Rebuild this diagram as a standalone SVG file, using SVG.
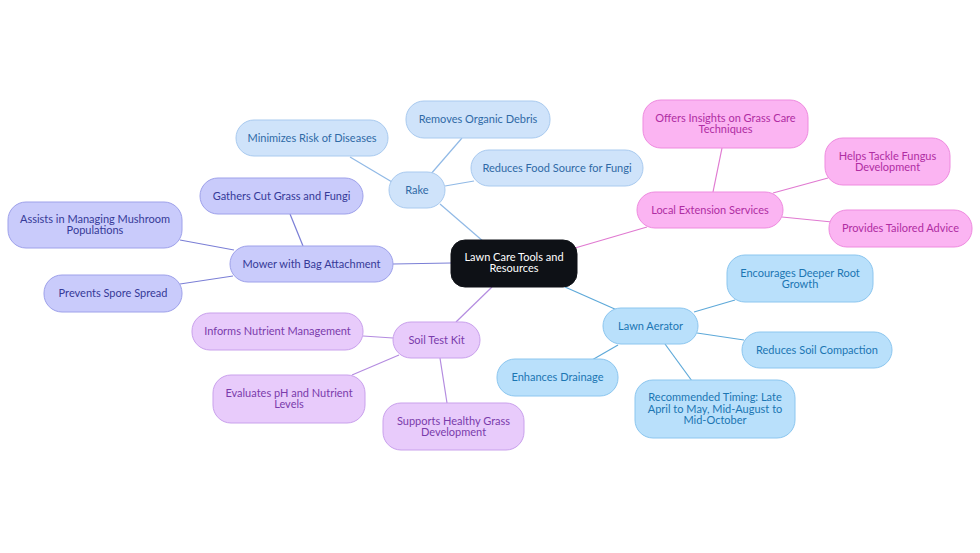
<svg xmlns="http://www.w3.org/2000/svg" width="980" height="553" viewBox="0 0 980 553">
<style>
text{font-family:Lato,Inter,"Liberation Sans",sans-serif;font-size:11px;text-anchor:middle;dominant-baseline:central;transform:translateY(-1px)}
.n rect{stroke-width:1}
.rk rect{fill:#cfe3fa;stroke:#a9caef}.rk text{fill:#2f6aa6}
.ae rect{fill:#b9e0fb;stroke:#8cc6ef}.ae text{fill:#1b76b3}
.mw rect{fill:#c9cbfb;stroke:#9ea1ea}.mw text{fill:#363a98}
.sk rect{fill:#e8cbfb;stroke:#c9a1ec}.sk text{fill:#7a3bab}
.ex rect{fill:#fbb4f2;stroke:#ee8bdf}.ex text{fill:#b02da3}
.c rect{fill:#0e1116;stroke:#0e1116}.c text{fill:#ffffff}
#edges line{stroke-width:1.2;fill:none}
.erk{stroke:#90b9e6}.eae{stroke:#5ea9d9}.emw{stroke:#7b7fd6}.esk{stroke:#b48ce0}.eex{stroke:#e07ad1}
</style>
<rect width="980" height="553" fill="#ffffff"/>
<g id="edges">
<line class="erk" x1="484" y1="242" x2="440" y2="204"/>
<line class="erk" x1="430" y1="175" x2="462" y2="138"/>
<line class="erk" x1="392" y1="182" x2="350" y2="157"/>
<line class="erk" x1="445" y1="186" x2="474" y2="181"/>
<line class="eex" x1="575" y1="248" x2="647" y2="227"/>
<line class="eex" x1="713" y1="192" x2="722" y2="148"/>
<line class="eex" x1="773" y1="193" x2="828" y2="178"/>
<line class="eex" x1="782" y1="217" x2="832" y2="222"/>
<line class="eae" x1="565" y1="287" x2="617" y2="310"/>
<line class="eae" x1="694" y1="312" x2="735" y2="300"/>
<line class="eae" x1="697" y1="333" x2="744" y2="340"/>
<line class="eae" x1="618" y1="345" x2="592" y2="360"/>
<line class="eae" x1="665" y1="344" x2="692" y2="381"/>
<line class="esk" x1="492" y1="287" x2="456" y2="322"/>
<line class="esk" x1="393" y1="338" x2="363" y2="336"/>
<line class="esk" x1="399" y1="355" x2="352" y2="375"/>
<line class="esk" x1="440" y1="358" x2="447" y2="403"/>
<line class="emw" x1="451" y1="263" x2="393" y2="264"/>
<line class="emw" x1="303" y1="246" x2="290" y2="214"/>
<line class="emw" x1="234" y1="250" x2="180" y2="240"/>
<line class="emw" x1="233" y1="276" x2="180" y2="284"/>
</g>
<g id="center" class="n c"><rect x="451" y="240" width="126" height="47" rx="14"/><text x="514" y="257">Lawn Care Tools and</text><text x="514" y="268.5">Resources</text></g>
<g id="rake" class="n rk"><rect x="389" y="172" width="56" height="36" rx="18"/><text x="417" y="190">Rake</text></g>
<g id="rake-debris" class="n rk"><rect x="406" y="101" width="144" height="37" rx="18"/><text x="478" y="119">Removes Organic Debris</text></g>
<g id="rake-diseases" class="n rk"><rect x="236" y="120" width="152" height="36" rx="18"/><text x="312" y="138">Minimizes Risk of Diseases</text></g>
<g id="rake-food" class="n rk"><rect x="471" y="150" width="172" height="36" rx="18"/><text x="557" y="168">Reduces Food Source for Fungi</text></g>
<g id="mower" class="n mw"><rect x="230" y="246" width="163" height="36" rx="18"/><text x="311.5" y="264">Mower with Bag Attachment</text></g>
<g id="mower-gathers" class="n mw"><rect x="200" y="178" width="163" height="36" rx="18"/><text x="281.5" y="196">Gathers Cut Grass and Fungi</text></g>
<g id="mower-assists" class="n mw"><rect x="8" y="202" width="174" height="46" rx="18"/><text x="95" y="219">Assists in Managing Mushroom</text><text x="95" y="230.5">Populations</text></g>
<g id="mower-spore" class="n mw"><rect x="44" y="275" width="138" height="37" rx="18"/><text x="113" y="293.5">Prevents Spore Spread</text></g>
<g id="soil" class="n sk"><rect x="393" y="322" width="87" height="36" rx="18"/><text x="436.5" y="340">Soil Test Kit</text></g>
<g id="soil-informs" class="n sk"><rect x="192" y="313" width="171" height="37" rx="18"/><text x="277.5" y="331.5">Informs Nutrient Management</text></g>
<g id="soil-evaluates" class="n sk"><rect x="213" y="375" width="152" height="48" rx="18"/><text x="289" y="393">Evaluates pH and Nutrient</text><text x="289" y="404.5">Levels</text></g>
<g id="soil-supports" class="n sk"><rect x="383" y="403" width="141" height="47" rx="18"/><text x="453.5" y="421">Supports Healthy Grass</text><text x="453.5" y="432.5">Development</text></g>
<g id="aerator" class="n ae"><rect x="603" y="308" width="95" height="36" rx="18"/><text x="650.5" y="326">Lawn Aerator</text></g>
<g id="aerator-root" class="n ae"><rect x="727" y="255" width="146" height="47" rx="18"/><text x="800" y="273">Encourages Deeper Root</text><text x="800" y="284.5">Growth</text></g>
<g id="aerator-compaction" class="n ae"><rect x="742" y="332" width="150" height="36" rx="18"/><text x="817" y="350">Reduces Soil Compaction</text></g>
<g id="aerator-drainage" class="n ae"><rect x="497" y="359" width="121" height="37" rx="18"/><text x="557.5" y="377">Enhances Drainage</text></g>
<g id="aerator-timing" class="n ae"><rect x="635" y="380" width="160" height="58" rx="18"/><text x="715" y="397.5">Recommended Timing: Late</text><text x="715" y="409">April to May, Mid-August to</text><text x="715" y="420.5">Mid-October</text></g>
<g id="extension" class="n ex"><rect x="637" y="192" width="146" height="36" rx="18"/><text x="710" y="210">Local Extension Services</text></g>
<g id="ext-insights" class="n ex"><rect x="643" y="100" width="165" height="48" rx="18"/><text x="725.5" y="118">Offers Insights on Grass Care</text><text x="725.5" y="129.5">Techniques</text></g>
<g id="ext-fungus" class="n ex"><rect x="825" y="138" width="125" height="47" rx="18"/><text x="887.5" y="156">Helps Tackle Fungus</text><text x="887.5" y="167.5">Development</text></g>
<g id="ext-advice" class="n ex"><rect x="829" y="210" width="143" height="37" rx="18"/><text x="900.5" y="228.5">Provides Tailored Advice</text></g>
</svg>
